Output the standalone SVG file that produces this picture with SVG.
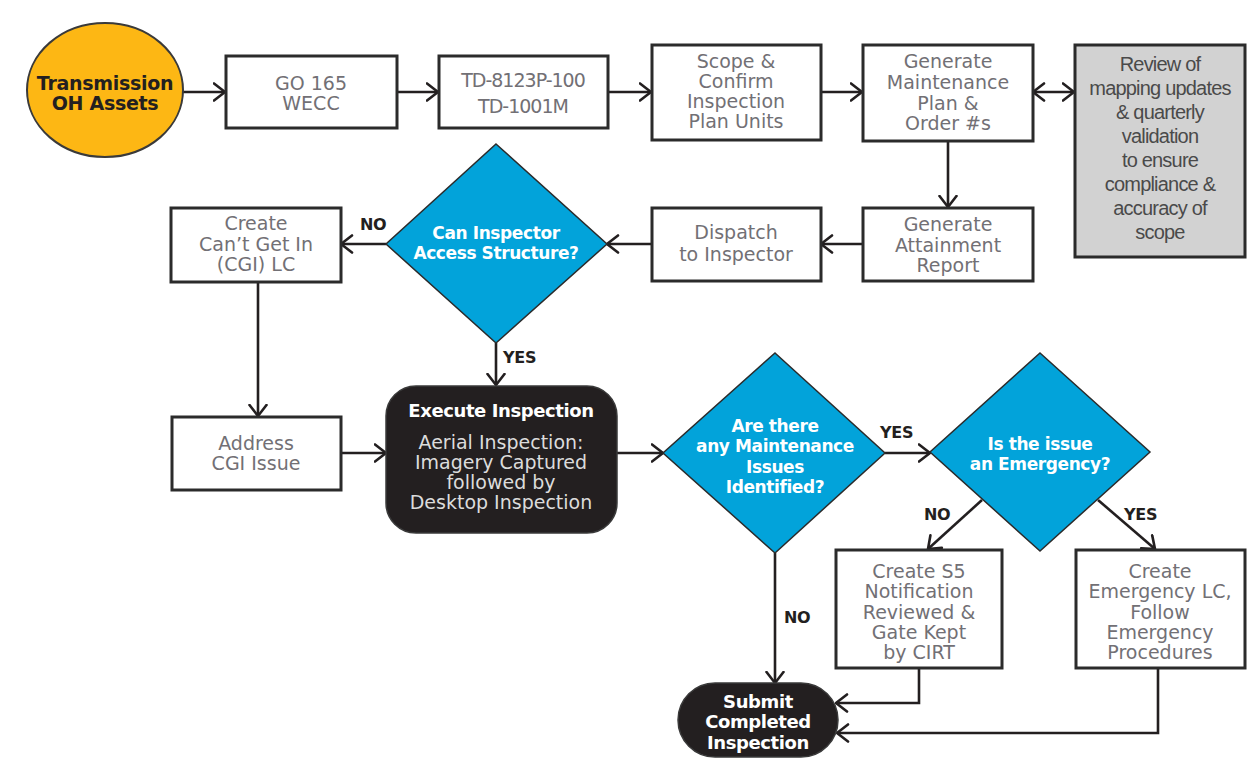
<svg xmlns="http://www.w3.org/2000/svg" width="1248" height="772" viewBox="0 0 1248 772">
  <defs>
    <marker id="arrow" viewBox="0 0 14 20" refX="12.5" refY="10" markerWidth="14" markerHeight="20" markerUnits="userSpaceOnUse" orient="auto-start-reverse">
      <path d="M1.5,1.5 L12.5,10 L1.5,18.5" fill="none" stroke="#231f20" stroke-width="2.6" stroke-linecap="round" stroke-linejoin="round"/>
    </marker>
    <style>
      .box { fill: #ffffff; stroke: #2b2b2b; stroke-width: 3; }
      .grey { fill: #d2d2d2; stroke: #2b2b2b; stroke-width: 3; }
      .dia { fill: #02a3da; stroke: #2b2b2b; stroke-width: 1.5; }
      .dark { fill: #231f20; stroke: #3a3a3a; stroke-width: 1.5; }
      .start { fill: #fdb714; stroke: #3a3a3a; stroke-width: 2; }
      .lbl { font-family: "DejaVu Sans", "Liberation Sans", sans-serif; font-size: 19px; fill: #727075; text-anchor: middle; }
      .cond { font-family: "Liberation Sans", Arial, sans-serif; font-size: 20px; fill: #4a4a4a; text-anchor: middle; letter-spacing: -0.8px; }
      .wb { font-family: "DejaVu Sans", "Liberation Sans", sans-serif; font-size: 17px; font-weight: bold; fill: #ffffff; text-anchor: middle; letter-spacing: -0.4px; }
      .wl { font-family: "DejaVu Sans", "Liberation Sans", sans-serif; font-size: 19px; fill: #dcdcdc; text-anchor: middle; }
      .db { font-family: "DejaVu Sans", "Liberation Sans", sans-serif; font-size: 16px; font-weight: bold; fill: #231f20; letter-spacing: -0.3px; }
      .conn path { fill: none; stroke: #231f20; stroke-width: 2.6; marker-end: url(#arrow); }
    </style>
  </defs>

  <rect width="1248" height="772" fill="#ffffff"/>

  <!-- connectors -->
  <g id="connectors" class="conn">
    <path d="M183,92 L225,92"/>
    <path d="M397,92 L438,92"/>
    <path d="M608,92 L651,92"/>
    <path d="M821,92 L862,92"/>
    <path d="M1033,92 L1074,92" marker-start="url(#arrow)"/>
    <path d="M948,141 L948,207"/>
    <path d="M862,244 L821,244"/>
    <path d="M651,244 L607,244"/>
    <path d="M386,244 L341,244"/>
    <path d="M496,343 L496,385"/>
    <path d="M258,282 L258,416"/>
    <path d="M341,453 L386,453"/>
    <path d="M617,453 L663,453"/>
    <path d="M885,453 L930,453"/>
    <path d="M982,500 L928,549"/>
    <path d="M1098,500 L1155,549"/>
    <path d="M775,553 L775,683"/>
    <path d="M919,668 L919,703 L836,703"/>
    <path d="M1158,668 L1158,733 L837,733"/>
  </g>

  <!-- connector labels -->
  <g id="connector-labels">
    <text class="db" x="360" y="230">NO</text>
    <text class="db" x="503" y="363">YES</text>
    <text class="db" x="880" y="438">YES</text>
    <text class="db" x="924" y="520">NO</text>
    <text class="db" x="1124" y="520">YES</text>
    <text class="db" x="784" y="623">NO</text>
  </g>

  <g id="start-assets">
    <ellipse class="start" cx="105" cy="90" rx="78" ry="67"/>
    <text class="db" x="105" y="90" text-anchor="middle" style="font-size:19px">Transmission</text>
    <text class="db" x="105" y="110" text-anchor="middle" style="font-size:19px">OH Assets</text>
  </g>

  <g id="go165">
    <rect class="box" x="226" y="56" width="171" height="72"/>
    <text class="lbl" x="311" y="90">GO 165</text>
    <text class="lbl" x="311" y="110">WECC</text>
  </g>

  <g id="td-standards">
    <rect class="box" x="439" y="56" width="169" height="72"/>
    <text class="lbl" x="523" y="87" style="letter-spacing:-1px">TD-8123P-100</text>
    <text class="lbl" x="523" y="113" style="letter-spacing:-1px">TD-1001M</text>
  </g>

  <g id="scope-confirm">
    <rect class="box" x="652" y="45" width="169" height="95"/>
    <text class="lbl" x="736" y="68">Scope &amp;</text>
    <text class="lbl" x="736" y="88">Confirm</text>
    <text class="lbl" x="736" y="108">Inspection</text>
    <text class="lbl" x="736" y="128">Plan Units</text>
  </g>

  <g id="maintenance-plan">
    <rect class="box" x="863" y="45" width="170" height="96"/>
    <text class="lbl" x="948" y="68">Generate</text>
    <text class="lbl" x="948" y="89">Maintenance</text>
    <text class="lbl" x="948" y="110">Plan &amp;</text>
    <text class="lbl" x="948" y="130">Order #s</text>
  </g>

  <g id="mapping-review">
    <rect class="grey" x="1075" y="45" width="170" height="212"/>
    <text class="cond" x="1160" y="71">Review of</text>
    <text class="cond" x="1160" y="95">mapping updates</text>
    <text class="cond" x="1160" y="119">&amp; quarterly</text>
    <text class="cond" x="1160" y="143">validation</text>
    <text class="cond" x="1160" y="167">to ensure</text>
    <text class="cond" x="1160" y="191">compliance &amp;</text>
    <text class="cond" x="1160" y="215">accuracy of</text>
    <text class="cond" x="1160" y="239">scope</text>
  </g>

  <g id="attainment-report">
    <rect class="box" x="863" y="208" width="170" height="73"/>
    <text class="lbl" x="948" y="231">Generate</text>
    <text class="lbl" x="948" y="252">Attainment</text>
    <text class="lbl" x="948" y="272">Report</text>
  </g>

  <g id="dispatch">
    <rect class="box" x="652" y="208" width="169" height="73"/>
    <text class="lbl" x="736" y="239">Dispatch</text>
    <text class="lbl" x="736" y="261">to Inspector</text>
  </g>

  <g id="access-decision">
    <polygon class="dia" points="496,144 607,244 496,343 386,244"/>
    <text class="wb" x="496" y="239">Can Inspector</text>
    <text class="wb" x="496" y="259">Access Structure?</text>
  </g>

  <g id="cgi-lc">
    <rect class="box" x="171" y="208" width="170" height="74"/>
    <text class="lbl" x="256" y="230">Create</text>
    <text class="lbl" x="256" y="251">Can’t Get In</text>
    <text class="lbl" x="256" y="271">(CGI) LC</text>
  </g>

  <g id="address-cgi">
    <rect class="box" x="172" y="417" width="169" height="73"/>
    <text class="lbl" x="256" y="450">Address</text>
    <text class="lbl" x="256" y="470">CGI Issue</text>
  </g>

  <g id="execute-inspection">
    <rect class="dark" x="386" y="386" width="231" height="147" rx="30" ry="30"/>
    <text class="wb" x="501" y="417" style="font-size:18px">Execute Inspection</text>
    <text class="wl" x="501" y="449">Aerial Inspection:</text>
    <text class="wl" x="501" y="469">Imagery Captured</text>
    <text class="wl" x="501" y="489">followed by</text>
    <text class="wl" x="501" y="509">Desktop Inspection</text>
  </g>

  <g id="issues-decision">
    <polygon class="dia" points="775,353 885,453 775,553 663,453"/>
    <text class="wb" x="775" y="432">Are there</text>
    <text class="wb" x="775" y="452">any Maintenance</text>
    <text class="wb" x="775" y="473">Issues</text>
    <text class="wb" x="775" y="493">Identified?</text>
  </g>

  <g id="emergency-decision">
    <polygon class="dia" points="1040,353 1150,452 1040,551 930,452"/>
    <text class="wb" x="1040" y="450">Is the issue</text>
    <text class="wb" x="1040" y="470">an Emergency?</text>
  </g>

  <g id="s5-notification">
    <rect class="box" x="836" y="550" width="166" height="118"/>
    <text class="lbl" x="919" y="578">Create S5</text>
    <text class="lbl" x="919" y="598">Notification</text>
    <text class="lbl" x="919" y="619">Reviewed &amp;</text>
    <text class="lbl" x="919" y="639">Gate Kept</text>
    <text class="lbl" x="919" y="659">by CIRT</text>
  </g>

  <g id="emergency-lc">
    <rect class="box" x="1076" y="550" width="169" height="118"/>
    <text class="lbl" x="1160" y="578">Create</text>
    <text class="lbl" x="1160" y="598">Emergency LC,</text>
    <text class="lbl" x="1160" y="619">Follow</text>
    <text class="lbl" x="1160" y="639">Emergency</text>
    <text class="lbl" x="1160" y="659">Procedures</text>
  </g>

  <g id="submit-inspection">
    <rect class="dark" x="678" y="683" width="160" height="74" rx="37" ry="37"/>
    <text class="wb" x="758" y="708" style="font-size:18px">Submit</text>
    <text class="wb" x="758" y="728" style="font-size:18px">Completed</text>
    <text class="wb" x="758" y="749" style="font-size:18px">Inspection</text>
  </g>
</svg>
